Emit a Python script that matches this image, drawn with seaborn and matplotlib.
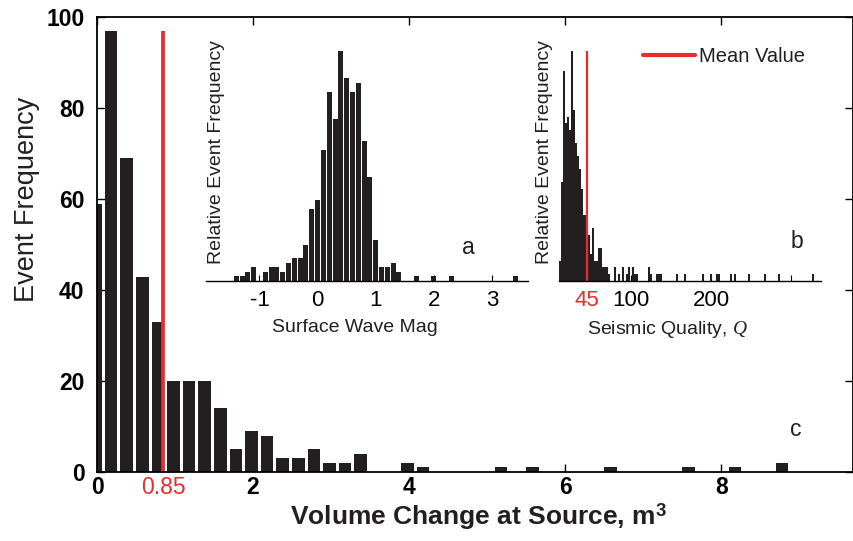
import matplotlib
matplotlib.use("Agg")
import pandas as pd
import matplotlib.pyplot as plt
import seaborn as sns

# main histogram: volume change at source (bin centres, counts)
vol_centers = [-0.02, 0.18, 0.38, 0.58, 0.78, 0.98, 1.18, 1.38, 1.58, 1.78, 1.98, 2.18, 2.38,
               2.58, 2.78, 2.98, 3.18, 3.38, 3.98, 4.18, 5.18, 5.58, 6.58, 7.58, 8.18, 8.78]
vol_counts = [59, 97, 69, 43, 33, 20, 20, 20, 14, 5, 9, 8, 3,
              3, 5, 2, 2, 4, 2, 1, 1, 1, 1, 1, 1, 2]
vol_mean = 0.85

# inset a: surface wave magnitude
mag_centers = [-1.4, -1.3, -1.2, -1.1, -0.9, -0.8, -0.7, -0.6, -0.5, -0.4, -0.3, -0.2, -0.1,
               0.0, 0.1, 0.2, 0.3, 0.4, 0.5, 0.6, 0.7, 0.8, 0.9, 1.0, 1.1, 1.2, 1.3, 1.4,
               1.7, 2.0, 2.3, 3.4]
mag_counts = [1, 1, 2, 3, 2, 3, 3, 2, 4, 5, 5, 8, 16,
              18, 29, 42, 36, 51, 45, 42, 44, 31, 23, 9, 3, 3, 4, 2,
              1, 1, 1, 1]

# inset b: seismic quality Q
q_centers = [11.5, 14, 16.5, 19, 21.5, 24, 26.5, 29, 31.5, 34, 36.5, 39, 41.5, 44, 46.5,
             49, 51.5, 54, 56.5, 59, 61.5, 64, 66.5, 69, 71.5, 79, 84, 89, 94, 96.5,
             101.5, 104, 106.5, 121.5, 124, 131.5, 134, 136.5, 156.5, 166.5, 189, 199,
             206.5, 209, 224, 229, 246.5, 266.5, 284, 326.5]
q_counts = [3, 15, 32, 24, 25, 23, 35, 26, 21, 19, 17, 14, 10, 10, 7,
            4, 8, 3, 3, 5, 5, 2, 2, 2, 1, 2, 1, 2, 1, 2,
            2, 1, 1, 2, 1, 1, 1, 1, 1, 1, 1, 1,
            1, 1, 1, 1, 1, 1, 1, 1]
q_mean = 45

BAR = "#231f20"
RED = "#ec2a2f"

sns.set_theme(style="ticks")
plt.rcParams["font.family"] = ["Liberation Sans", "DejaVu Sans"]
plt.rcParams["mathtext.fontset"] = "custom"
plt.rcParams["mathtext.rm"] = "Liberation Sans"
plt.rcParams["mathtext.bf"] = "Liberation Sans:bold"
plt.rcParams["mathtext.it"] = "Liberation Serif:italic"

fig = plt.figure(figsize=(8.54, 5.41), dpi=100)

# ---- main axes ----
ax = fig.add_axes([0.1136, 0.1275, 0.8852, 0.8402])
df = pd.DataFrame({"vol": vol_centers, "n": vol_counts})
sns.barplot(data=df, x="vol", y="n", native_scale=True, width=0.8, color=BAR,
            saturation=1, linewidth=0, errorbar=None, ax=ax)
ax.plot([vol_mean, vol_mean], [0, max(vol_counts)], color=RED, lw=2.7, solid_capstyle="butt")
ax.set_xlim(0, 9.69)
ax.set_ylim(0, 100)
ax.set_xticks([0, 2, 4, 6, 8])
ax.set_xticklabels(["0", "2", "4", "6", "8"])
ax.set_xticks([vol_mean], labels=["0.85"], minor=True)
ax.set_yticks([0, 20, 40, 60, 80, 100])
ax.tick_params(direction="in", top=True, right=True, length=6, width=1, colors="black",
               labelsize=16.5)
ax.tick_params(axis="x", pad=3)
ax.tick_params(axis="y", pad=9)
ax.tick_params(axis="x", which="minor", length=0, labelcolor=RED, labelsize=16.5, pad=3)
for lbl in ax.get_xticklabels() + ax.get_yticklabels():
    lbl.set_fontweight("bold")
for sp in ax.spines.values():
    sp.set_linewidth(1.3)
    sp.set_color("black")
ax.set_xlabel(r"Volume Change at Source, m$^{\mathbf{3}}$", fontsize=19, fontweight="bold",
              color="#231f20")
ax.xaxis.set_label_coords(0.504, -0.064)
ax.set_ylabel("Event Frequency", fontsize=19.5, color="#231f20")
ax.yaxis.set_label_coords(-0.075, 0.60)


def inset(rect):
    a = fig.add_axes(rect)
    a.patch.set_alpha(0)
    for side in ["top", "right", "left"]:
        a.spines[side].set_visible(False)
    a.spines["bottom"].set_linewidth(1.0)
    a.spines["bottom"].set_color("black")
    a.tick_params(axis="x", direction="in", length=4, width=0.8, labelsize=16, pad=7,
                  colors="black")
    return a


# ---- inset a ----
ax_a = inset([0.2412, 0.4815, 0.3771, 0.476])
dfa = pd.DataFrame({"mag": mag_centers, "n": mag_counts})
sns.barplot(data=dfa, x="mag", y="n", native_scale=True, width=0.86, color=BAR,
            saturation=1, linewidth=0, errorbar=None, ax=ax_a)
ax_a.set_xlim(-1.92, 3.62)
ax_a.set_ylim(0, max(mag_counts) * 257.5 / 229)
ax_a.set_yticks([])
ax_a.set_ylabel("")
ax_a.set_xticks([-1, 0, 1, 2, 3])
ax_a.set_xticklabels(["-1", "0", "1", "2", "3"])
ax_a.set_xlabel("Surface Wave Mag", fontsize=14, color="#231f20")
ax_a.xaxis.set_label_coords(0.463, -0.15)
ax_a.text(0.059, 0.5, "Relative Event Frequency", transform=ax_a.transAxes, rotation=90,
          ha="right", va="center", fontsize=14, color="#231f20")

# ---- inset b ----
ax_b = inset([0.6549, 0.4815, 0.3065, 0.476])
dfb = pd.DataFrame({"q": q_centers, "n": q_counts})
sns.barplot(data=dfb, x="q", y="n", native_scale=True, width=1.0, color=BAR,
            saturation=1, linewidth=0, errorbar=None, ax=ax_b)
ax_b.plot([q_mean, q_mean], [0, max(q_counts)], color=RED, lw=1.6, solid_capstyle="butt")
ax_b.set_xlim(10, 337)
ax_b.set_ylim(0, max(q_counts) * 257.5 / 229)
ax_b.set_yticks([])
ax_b.set_ylabel("")
ax_b.set_xticks([100, 200, 300])
ax_b.set_xticklabels(["100", "200", ""])
ax_b.set_xticks([q_mean], labels=["45"], minor=True)
ax_b.tick_params(axis="x", which="minor", length=0, labelcolor=RED, labelsize=16, pad=7)
ax_b.set_xlabel(r"Seismic Quality, $\mathit{Q}$", fontsize=14, color="#231f20")
ax_b.xaxis.set_label_coords(0.415, -0.15)
ax_b.text(-0.024, 0.5, "Relative Event Frequency", transform=ax_b.transAxes, rotation=90,
          ha="right", va="center", fontsize=14, color="#231f20")

leg_line = plt.Line2D([], [], color=RED, lw=3)
ax_b.legend([leg_line], ["Mean Value"], loc="center left", bbox_to_anchor=(0.32, 0.868),
            frameon=False, fontsize=14.5, handlelength=2.6, handletextpad=0.2,
            borderpad=0, borderaxespad=0, labelcolor="#231f20")

# panel letters
fig.text(0.548, 0.5305, "a", fontsize=16.5, ha="center", va="baseline", color="#231f20")
fig.text(0.9327, 0.5416, "b", fontsize=16.5, ha="center", va="baseline", color="#231f20")
fig.text(0.932, 0.194, "c", fontsize=16.5, ha="center", va="baseline", color="#231f20")

fig.savefig("out.png", dpi=100)
